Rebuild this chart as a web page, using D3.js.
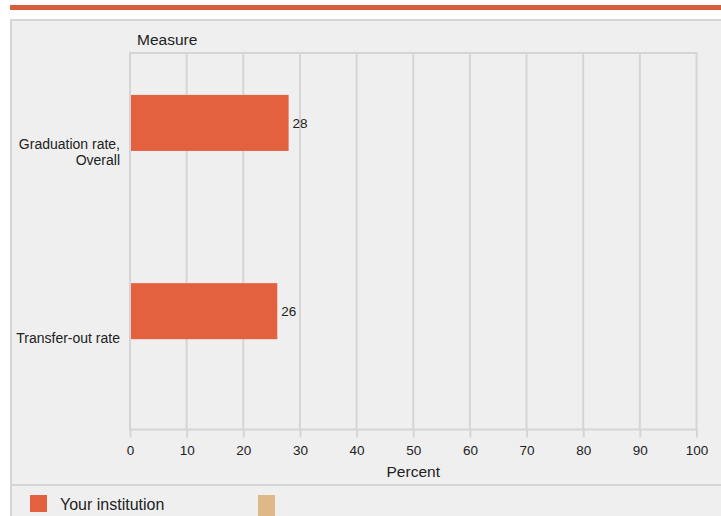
<!DOCTYPE html>
<html>
<head>
<meta charset="utf-8">
<script src="https://cdn.jsdelivr.net/npm/d3@7"></script>
<style>
  body { margin: 0; background: #fff; }
  svg { display: block; font-family: "Liberation Sans", Arial, sans-serif; }
</style>
</head>
<body>
<svg id="chart"></svg>
<script>
const categories = [["Graduation rate,", "Overall"], ["Transfer-out rate"]];
const series = ["Your institution", "Comparison"];
const values = [28, 26];
const ticks = [0, 10, 20, 30, 40, 50, 60, 70, 80, 90, 100];
const colors = ["#e4613f", "#dfb887"];

const svgWidth = 721;
const svgHeight = 516;
const plot = { left: 130, right: 696.5, top: 53, bottom: 429.5 };
const grid = "#d5d5d5";

const svg = d3.select("#chart")
  .attr("width", svgWidth)
  .attr("height", svgHeight);

// top rule and panel
svg.append("rect").attr("x", 10).attr("y", 5).attr("width", 711).attr("height", 5).attr("fill", "#d7603c");
svg.append("rect").attr("x", 11).attr("y", 20).attr("width", 720).attr("height", 510)
  .attr("fill", "#efefef").attr("stroke", grid).attr("stroke-width", 2);
svg.append("line").attr("x1", 10).attr("x2", 721).attr("y1", 485).attr("y2", 485)
  .attr("stroke", grid).attr("stroke-width", 2);

const xScale = d3.scaleLinear().domain([0, 100]).range([plot.left, plot.right]);
const yScale = d3.scaleBand().domain(d3.range(categories.length)).range([plot.top, plot.bottom]);
const subScale = d3.scaleBand().domain(series).range([0, yScale.bandwidth()])
  .paddingOuter(0.68).align(0.55);

// grid
svg.append("g").selectAll("line").data(ticks).join("line")
  .attr("x1", d => xScale(d)).attr("x2", d => xScale(d))
  .attr("y1", plot.top).attr("y2", plot.bottom)
  .attr("stroke", grid).attr("stroke-width", 2);
svg.append("line").attr("x1", plot.left - 1).attr("x2", plot.right + 1)
  .attr("y1", plot.top).attr("y2", plot.top).attr("stroke", grid).attr("stroke-width", 2);

const xAxis = d3.axisBottom(xScale).tickValues(ticks).tickSize(8).tickPadding(8);
const gx = svg.append("g")
  .attr("transform", `translate(0, ${plot.bottom})`)
  .call(xAxis);
gx.select(".domain").attr("stroke", grid).attr("stroke-width", 2)
  .attr("d", `M${plot.left - 1},0H${plot.right + 1}`);
gx.selectAll(".tick line").attr("stroke", grid).attr("stroke-width", 2);
gx.selectAll(".tick text").attr("fill", "#222").style("font-size", "13.5px")
  .style("font-family", "'Liberation Sans', Arial, sans-serif");

// bars
svg.append("g").selectAll("rect").data(values).join("rect")
  .attr("x", xScale(0) + 1)
  .attr("y", (d, i) => yScale(i) + subScale(series[0]))
  .attr("width", d => xScale(d) - xScale(0) - 1)
  .attr("height", subScale.bandwidth())
  .attr("fill", colors[0]);

svg.append("g").selectAll("text").data(values).join("text")
  .attr("x", d => xScale(d) + 4)
  .attr("y", (d, i) => yScale(i) + subScale(series[0]) + subScale.bandwidth() / 2 + 5)
  .attr("fill", "#222").style("font-size", "13.5px")
  .text(d => d);

// category labels
const cat = svg.append("g").selectAll("text").data(categories).join("text")
  .attr("text-anchor", "end")
  .attr("fill", "#222").style("font-size", "14px")
  .attr("y", (d, i) => yScale(i) + yScale.bandwidth() / 2 + 8 - (d.length - 1) * 6);
cat.selectAll("tspan").data(d => d).join("tspan")
  .attr("x", 120)
  .attr("dy", (d, i) => i ? 15.5 : 0)
  .text(d => d);

// titles
svg.append("text").attr("x", 137).attr("y", 45).attr("fill", "#222")
  .style("font-size", "15.5px").text("Measure");
svg.append("text").attr("x", (plot.left + plot.right) / 2).attr("y", 477)
  .attr("text-anchor", "middle").attr("fill", "#222")
  .style("font-size", "15.5px").text("Percent");

// legend
const legend = svg.append("g").selectAll("g").data(series).join("g")
  .attr("transform", (d, i) => `translate(${i ? 258 : 30}, 495)`);
legend.append("rect").attr("width", 17).attr("height", (d, i) => i ? 22 : 17)
  .attr("fill", (d, i) => colors[i]);
legend.filter((d, i) => i === 0).append("text")
  .attr("x", 30).attr("y", 15).attr("fill", "#222")
  .style("font-size", "16px").text(d => d);
</script>
</body>
</html>
